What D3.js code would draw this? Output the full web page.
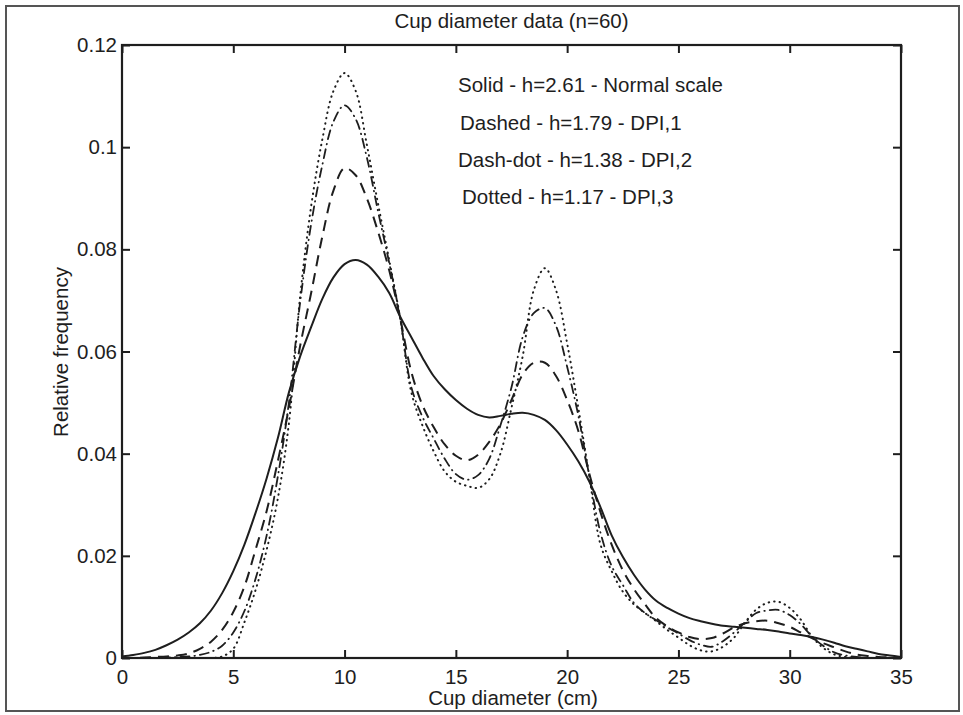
<!DOCTYPE html>
<html>
<head>
<meta charset="utf-8">
<script src="https://cdn.jsdelivr.net/npm/d3@7"></script>
<style>
  html, body { margin: 0; padding: 0; background: #fff; }
  svg text { font-family: "Liberation Sans", Arial, sans-serif; fill: #1e1e1e; }
</style>
</head>
<body>
<div id="chart"></div>
<script>
// cup diameter (cm), sampled every half centimetre
var diameters = [
  0, 0.5, 1, 1.5, 2, 2.5, 3, 3.5, 4, 4.5, 5, 5.5, 6, 6.5, 7, 7.5, 8, 8.5, 9, 9.5,
  10, 10.5, 11, 11.5, 12, 12.5, 13, 13.5, 14, 14.5, 15, 15.5, 16, 16.5, 17, 17.5,
  18, 18.5, 19, 19.5, 20, 20.5, 21, 21.5, 22, 22.5, 23, 23.5, 24, 24.5, 25, 25.5,
  26, 26.5, 27, 27.5, 28, 28.5, 29, 29.5, 30, 30.5, 31, 31.5, 32, 32.5, 33, 33.5,
  34, 34.5, 35
];

// h=2.61, normal scale
var solidValues = [
  .0003, .0006, .0010, .0016, .0025, .0036, .0050, .0068, .0093, .0127, .0170, .0222,
  .0284, .0352, .0430, .0520, .0590, .0648, .0703, .0745, .0771, .0779, .0770, .0747,
  .0715, .0668, .0628, .0588, .0552, .0526, .0505, .0488, .0476, .0471, .0474, .0478,
  .0480, .0476, .0466, .0446, .0418, .0385, .0345, .0295, .0240, .0198, .0163, .0134,
  .0112, .0098, .0087, .0078, .0072, .0067, .0063, .0061, .0059, .0057, .0055, .0052,
  .0048, .0045, .0041, .0036, .0030, .0023, .0018, .0013, .0008, .0005, .0002
];

// h=1.79, DPI,1
var dashedValues = [
  0, 0, .0001, .0002, .0003, .0005, .0009, .0018, .0032, .0055, .0090, .0140,
  .0212, .0288, .0385, .0490, .0610, .0715, .0825, .0915, .0959, .0945, .0900, .0835,
  .0760, .0665, .0560, .0495, .0452, .0418, .0396, .0387, .0398, .0423, .0458, .0505,
  .0555, .0578, .0578, .0552, .0505, .0445, .0360, .0285, .0222, .0172, .0135, .0105,
  .0078, .0062, .0050, .0041, .0037, .0039, .0048, .0060, .0068, .0072, .0073, .0068,
  .0061, .0050, .0039, .0029, .0021, .0013, .0007, .0004, .0002, .0001, 0
];

// h=1.38, DPI,2
var dashDotValues = [
  0, 0, 0, 0, .0001, .0002, .0003, .0006, .0012, .0024, .0050, .0092,
  .0155, .0240, .0355, .0500, .0695, .0850, .0965, .1050, .1082, .1055, .0980, .0875,
  .0775, .0665, .0530, .0472, .0430, .0390, .0360, .0349, .0358, .0390, .0455, .0530,
  .0628, .0675, .0685, .0650, .0570, .0475, .0355, .0245, .0180, .0143, .0108, .0088,
  .0074, .0060, .0048, .0035, .0026, .0022, .0033, .0050, .0070, .0088, .0093, .0094,
  .0084, .0066, .0042, .0024, .0011, .0005, .0002, 0, 0, 0, 0
];

// h=1.17, DPI,3
var dottedValues = [
  0, 0, 0, 0, 0, 0, 0, 0, 0, .0003, .0018, .0070,
  .0133, .0212, .0312, .0460, .0706, .0885, .1015, .1110, .1145, .1110, .1005, .0890,
  .0780, .0665, .0520, .0455, .0405, .0365, .0345, .0337, .0333, .0350, .0400, .0490,
  .0590, .0720, .0763, .0720, .0616, .0490, .0355, .0222, .0170, .0130, .0105, .0088,
  .0072, .0055, .0040, .0025, .0015, .0013, .0022, .0040, .0070, .0095, .0108, .0110,
  .0098, .0075, .0042, .0020, .0007, .0002, 0, 0, 0, 0, 0
];

var xTicks = [0, 5, 10, 15, 20, 25, 30, 35];
var yTicks = [0, 0.02, 0.04, 0.06, 0.08, 0.1, 0.12];
var yTickLabels = ["0", "0.02", "0.04", "0.06", "0.08", "0.1", "0.12"];

var legendLines = [
  "Solid - h=2.61 - Normal scale",
  "Dashed - h=1.79 - DPI,1",
  "Dash-dot - h=1.38 - DPI,2",
  "Dotted - h=1.17 - DPI,3"
];

var
  WIDTH = 963,
  HEIGHT = 715,
  PLOT_LEFT = 122,
  PLOT_RIGHT = 901,
  PLOT_TOP = 45,
  PLOT_BOTTOM = 658,
  TICK = 8,
  INK = "#1e1e1e",
  FONT = "20.5px";

var svg = d3.select("#chart").append("svg")
  .attr("width", WIDTH)
  .attr("height", HEIGHT);

// scanned page frame
svg.append("rect")
  .attr("x", 6).attr("y", 6)
  .attr("width", 953).attr("height", 705)
  .attr("fill", "none")
  .attr("stroke", "#555")
  .attr("stroke-width", 2);

var x = d3.scaleLinear().domain([0, 35]).range([PLOT_LEFT, PLOT_RIGHT]);
var y = d3.scaleLinear().domain([0, 0.12]).range([PLOT_BOTTOM, PLOT_TOP]);

// axes, ticks pointing inward on all four sides (matlab box)
var bottomAxis = d3.axisBottom(x).tickValues(xTicks).tickSizeInner(-TICK).tickSizeOuter(0).tickPadding(11);
var topAxis = d3.axisTop(x).tickValues(xTicks).tickSizeInner(-TICK).tickSizeOuter(0).tickFormat("");
var leftAxis = d3.axisLeft(y).tickValues(yTicks).tickSizeInner(-TICK).tickSizeOuter(0).tickPadding(5)
  .tickFormat(function(d, i){ return yTickLabels[i]; });
var rightAxis = d3.axisRight(y).tickValues(yTicks).tickSizeInner(-TICK).tickSizeOuter(0).tickFormat("");

function styleAxis(g){
  g.select(".domain").remove();
  g.selectAll(".tick line").attr("stroke", INK).attr("stroke-width", 2);
  g.selectAll(".tick text").attr("font-size", FONT).attr("fill", INK)
    .style("font-family", "'Liberation Sans', Arial, sans-serif");
}

svg.append("g").attr("transform", "translate(0," + PLOT_BOTTOM + ")").call(bottomAxis).call(styleAxis);
svg.append("g").attr("transform", "translate(0," + PLOT_TOP + ")").call(topAxis).call(styleAxis);
svg.append("g").attr("transform", "translate(" + PLOT_LEFT + ",0)").call(leftAxis).call(styleAxis);
svg.append("g").attr("transform", "translate(" + PLOT_RIGHT + ",0)").call(rightAxis).call(styleAxis);

svg.append("rect")
  .attr("x", PLOT_LEFT).attr("y", PLOT_TOP)
  .attr("width", PLOT_RIGHT - PLOT_LEFT).attr("height", PLOT_BOTTOM - PLOT_TOP)
  .attr("fill", "none")
  .attr("stroke", INK)
  .attr("stroke-width", 2.2);

// curves
var series = [
  { values: solidValues, dash: null, width: 2, cap: "butt" },
  { values: dashedValues, dash: "11,7", width: 2, cap: "butt" },
  { values: dashDotValues, dash: "9,5,0.5,5", width: 1.8, cap: "round" },
  { values: dottedValues, dash: "0.5,5", width: 2, cap: "round" }
];

var line = d3.line()
  .x(function(d){ return x(d[0]); })
  .y(function(d){ return y(d[1]); })
  .curve(d3.curveCatmullRom.alpha(0.5));

series.forEach(function(s){
  var points = diameters.map(function(d, i){ return [d, s.values[i]]; });
  var path = svg.append("path")
    .attr("d", line(points))
    .attr("fill", "none")
    .attr("stroke", INK)
    .attr("stroke-width", s.width)
    .attr("stroke-linecap", s.cap);
  if(s.dash) path.attr("stroke-dasharray", s.dash);
});

// texts
svg.append("text")
  .attr("x", (PLOT_LEFT + PLOT_RIGHT) / 2).attr("y", 28)
  .attr("text-anchor", "middle")
  .attr("font-size", FONT)
  .text("Cup diameter data (n=60)");

svg.append("text")
  .attr("x", 513).attr("y", 705)
  .attr("text-anchor", "middle")
  .attr("font-size", FONT)
  .text("Cup diameter (cm)");

svg.append("text")
  .attr("transform", "translate(68,352) rotate(-90)")
  .attr("text-anchor", "middle")
  .attr("font-size", FONT)
  .text("Relative frequency");

var legendX = [458, 460, 458, 462];
var legendY = [92, 130, 167, 204];

svg.selectAll(".legend")
  .data(legendLines)
  .enter().append("text")
  .attr("class", "legend")
  .attr("x", function(d, i){ return legendX[i]; })
  .attr("y", function(d, i){ return legendY[i]; })
  .attr("font-size", FONT)
  .text(function(d){ return d; });
</script>
</body>
</html>
